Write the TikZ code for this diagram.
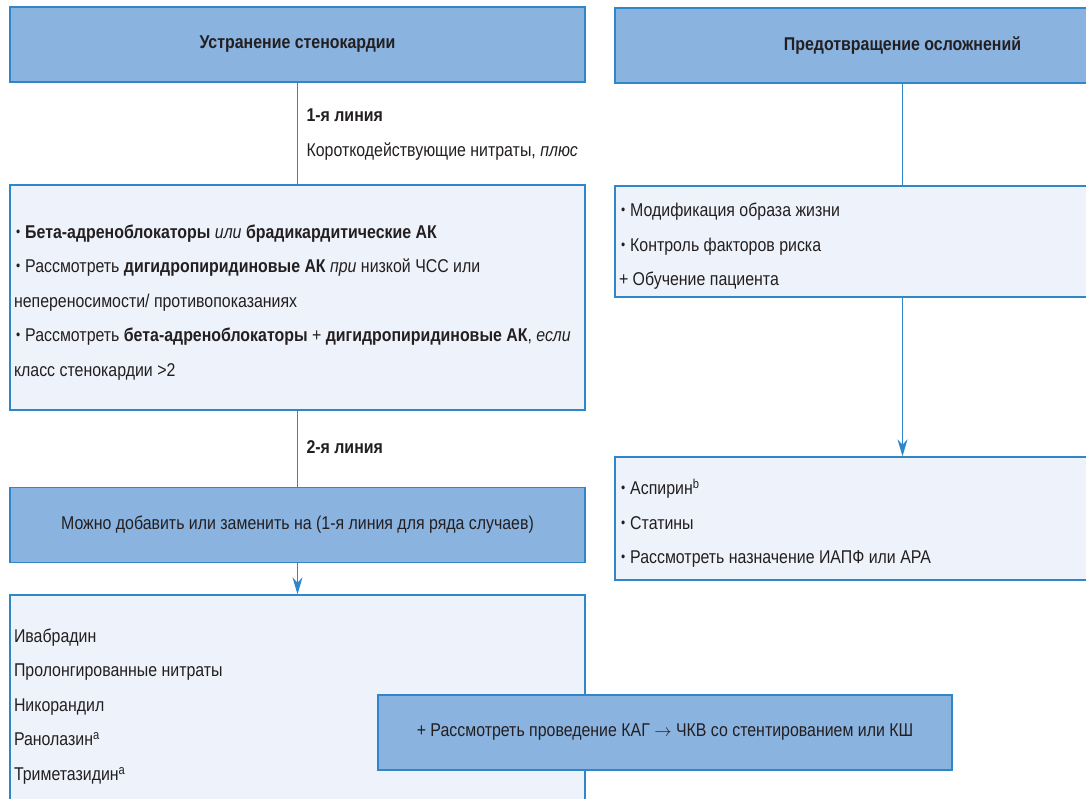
\documentclass[tikz,border=0pt]{standalone}
\usepackage{fontspec}
\setmainfont{Liberation Sans}[FakeStretch=0.86]
\usetikzlibrary{arrows.meta}
\definecolor{hdrblue}{HTML}{8AB3E0}
\definecolor{lineblue}{HTML}{2F87CA}
\definecolor{paleblue}{HTML}{EEF3FB}
\definecolor{txtgray}{HTML}{231F20}
\newcommand{\bul}{\hspace{2pt}\raisebox{.2ex}{\scalebox{.75}{•}}\hspace{5pt}}

\begin{document}
\begin{tikzpicture}
  [x=1pt,y=-1pt,
   every node/.style={font=\fontsize{18.5}{34.5}\selectfont,text=txtgray},
   hdr/.style={draw=lineblue,line width=1.4pt,fill=hdrblue,minimum width=575pt,minimum height=75pt,inner sep=0pt},
   panel/.style={draw=lineblue,line width=1.4pt,fill=paleblue,text width=567pt,inner xsep=4pt,align=flush left,
     execute at end node=\endgraf\vspace{-10pt}},
   conn/.style={lineblue,line width=1.2pt}]
  \useasboundingbox (0,0) rectangle (1086,799);
  \clip (0,0) rectangle (1086,799);

  \node[hdr] (angina) at (297.5,44.5) {\bfseries Устранение стенокардии};
  \node[hdr] (prevent) at (902.5,45.5) {\bfseries Предотвращение осложнений};
  \node[panel,minimum height=225pt] (first) at (297.5,297.5)
    {\bul\textbf{Бета-адреноблокаторы} \textit{или} \textbf{брадикардитические АК}\\
     \bul Рассмотреть \textbf{дигидропиридиновые АК} \textit{при} низкой ЧСС или\\
     непереносимости/ противопоказаниях\\
     \bul Рассмотреть \textbf{бета-адреноблокаторы} + \textbf{дигидропиридиновые АК}, \textit{если}\\
     класс стенокардии >2};
  \node[hdr] (second) at (297.5,525) {Можно добавить или заменить на (1-я линия для ряда случаев)};
  \node[panel,minimum height=213pt] (drugs) at (297.5,701.5)
    {Ивабрадин\\
     Пролонгированные нитраты\\
     Никорандил\\
     Ранолазин\textsuperscript{a}\\
     Триметазидин\textsuperscript{a}};
  \node[panel,minimum height=111pt] (lifestyle) at (902.5,241.5)
    {\bul Модификация образа жизни\\
     \bul Контроль факторов риска\\
     + Обучение пациента};
  \node[panel,minimum height=123pt] (meds) at (902.5,518.5)
    {\bul Аспирин\textsuperscript{b}\\
     \bul Статины\\
     \bul Рассмотреть назначение ИАПФ или АРА};
  \node[hdr,minimum width=574pt] (revasc) at (665,732.5)
    {+ Рассмотреть проведение КАГ $\rightarrow$ ЧКВ со стентированием или КШ};

  \node[anchor=west,align=left] (line1) at (303,134.5)
    {{\bfseries 1-я линия}\\Короткодействующие нитраты, \textit{плюс}};
  \node[anchor=west] (line2) at (303,447) {\bfseries 2-я линия};

  \foreach \from/\to in {angina/first,first/second,prevent/lifestyle}
    \draw[conn] (\from) -- (\to);
  \draw[conn,-{Stealth[length=17pt,width=10pt]}] (second) -- (drugs);
  \draw[conn,-{Stealth[length=17pt,width=10pt]}] (lifestyle) -- (meds);

\end{tikzpicture}
\end{document}
